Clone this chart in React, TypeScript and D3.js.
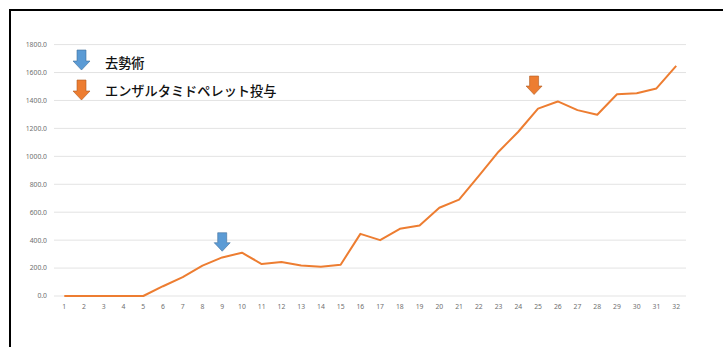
import React from "react";
import * as d3 from "d3";

const days: number[] = Array.from({ length: 32 }, (_, i) => i + 1);
const weights: number[] = [
  0, 0, 0, 0, 0, 70, 135, 217, 276, 310, 229, 243, 219, 210, 224, 445,
  400, 481, 505, 632, 690, 860, 1033, 1176, 1342, 1393, 1331, 1298, 1445,
  1452, 1486, 1648,
];
const yTicks: number[] = [0, 200, 400, 600, 800, 1000, 1200, 1400, 1600, 1800];
const legendLabels: string[] = ["去勢術", "エンザルタミドペレット投与"];
const legendColors: string[] = ["#5B9BD5", "#ED7D31"];
const legendStrokes: string[] = ["#41719C", "#AE5A21"];
// annotation arrows: day position, value at arrow top
const annotDays: number[] = [9, 24.8];
const annotTops: number[] = [453, 1575];

const W = 723;
const H = 347;

function arrowPath(cx: number, top: number, h: number, shaftW: number, headW: number, headH: number) {
  const bodyEnd = top + h - headH;
  return [
    `M${cx - shaftW / 2},${top}`,
    `L${cx + shaftW / 2},${top}`,
    `L${cx + shaftW / 2},${bodyEnd}`,
    `L${cx + headW / 2},${bodyEnd}`,
    `L${cx},${top + h}`,
    `L${cx - headW / 2},${bodyEnd}`,
    `L${cx - shaftW / 2},${bodyEnd}`,
    "Z",
  ].join(" ");
}

export default function App() {
  const x = d3.scaleLinear().domain([1, 32]).range([64.3, 676.2]);
  const y = d3.scaleLinear().domain([0, 1800]).range([296, 44.6]);
  const line = d3
    .line<number>()
    .x((_, i) => x(days[i]))
    .y((d) => y(d));
  const gridX0 = 54;
  const gridX1 = 686;

  return (
    <svg
      width={W}
      height={H}
      style={{ position: "absolute", left: 0, top: 0, background: "#fff" }}
      fontFamily="'Noto Sans', sans-serif"
    >
      <rect x={0} y={0} width={W} height={H} fill="#fff" />
      {/* frame */}
      <rect x={10} y={10} width={900} height={600} fill="none" stroke="#000" strokeWidth={2} />
      {/* grid */}
      {yTicks.map((t) => (
        <line key={t} x1={gridX0} x2={gridX1} y1={y(t)} y2={y(t)} stroke="#e3e3e3" strokeWidth={1} />
      ))}
      {yTicks.map((t) => (
        <text
          key={"l" + t}
          x={47}
          y={y(t)}
          dy="0.35em"
          textAnchor="end"
          fontSize={6.8}
          fill="#6f6f6f"
        >
          {t.toFixed(1)}
        </text>
      ))}
      {days.map((d) => (
        <text key={"x" + d} x={x(d)} y={306.7} dy="0.35em" textAnchor="middle" fontSize={6.8} fill="#6f6f6f">
          {d}
        </text>
      ))}
      <path d={line(weights) || ""} fill="none" stroke="#ED7D31" strokeWidth={2} strokeLinejoin="round" />
      {/* annotation arrows */}
      {annotDays.map((d, i) => (
        <path
          key={"a" + i}
          d={arrowPath(x(d), y(annotTops[i]), 18.5, 9, 16, 8.5)}
          fill={legendColors[i]}
          stroke={legendStrokes[i]}
          strokeWidth={0.6}
        />
      ))}
      {/* legend */}
      {legendLabels.map((lab, i) => (
        <g key={"lg" + i}>
          <path
            d={arrowPath(81.5, 50 + i * 30, 20, 9, 17, 9)}
            fill={legendColors[i]}
            stroke={legendStrokes[i]}
            strokeWidth={0.6}
          />
          <text
            x={105}
            y={63 + i * 28}
            dy="0.35em"
            fontSize={13.2}
            fontWeight={500}
            fill="#111"
            fontFamily="'Noto Sans CJK JP', sans-serif"
          >
            {lab}
          </text>
        </g>
      ))}
    </svg>
  );
}
